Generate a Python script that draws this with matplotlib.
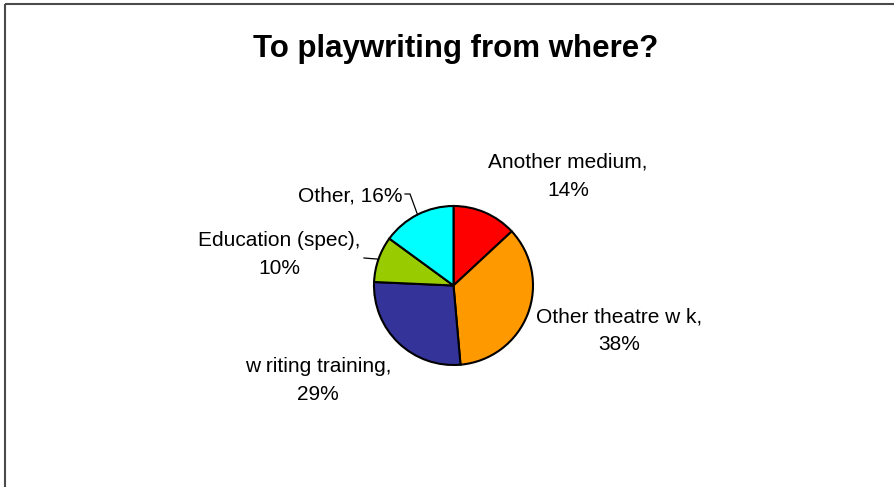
import numpy as np
import matplotlib.pyplot as plt
from matplotlib.patches import Rectangle

plt.rcParams['font.family'] = ['Liberation Sans', 'DejaVu Sans']

# Survey answers, in order clockwise from 12 o'clock
categories = ['Another medium', 'Other theatre w k', 'w riting training',
              'Education (spec)', 'Other']
percents = [14, 38, 29, 10, 16]
colors = ['#FF0000', '#FF9900', '#333399', '#99CC00', '#00FFFF']

# label layout (pixel coords), one line or two per label
label_pos = [(568, 176), (619, 331), (318, 380), (279, 255), (350, 196)]
two_lines = [True, True, True, True, False]

W, H = 895, 487
fig = plt.figure(figsize=(W / 100, H / 100), dpi=100)
ax = fig.add_axes([0, 0, 1, 1])

# chart area border
ax.add_patch(Rectangle((5, 4), W + 20, H + 20, fill=False,
                       edgecolor='#4a4a4a', lw=1.5))

ax.text(W / 2 + 8, 49, 'To playwriting from where?', ha='center', va='center',
        fontsize=22.5, fontweight='bold')

center = (453.5, 285.5)
radius = 79.5
wedges, _ = ax.pie(percents, colors=colors, center=center, radius=radius,
                   startangle=270, counterclock=True, frame=True,
                   wedgeprops=dict(edgecolor='black', linewidth=1.5))
ax.set_xlim(0, W)
ax.set_ylim(H, 0)
ax.set_aspect('equal')
ax.axis('off')

for name, pct, (x, y), tl in zip(categories, percents, label_pos, two_lines):
    txt = f'{name},\n{pct}%' if tl else f'{name}, {pct}%'
    ax.text(x, y, txt, ha='center', va='center', fontsize=15,
            linespacing=1.6)

# leader lines for the two small labels on the left
def edge_point(w):
    mid = np.deg2rad((w.theta1 + w.theta2) / 2)
    return center[0] + radius * np.cos(mid), center[1] + radius * np.sin(mid)

ex, ey = edge_point(wedges[4])
ax.plot([405, 410, ex], [194, 194, ey], color='black', lw=0.9)
ex, ey = edge_point(wedges[3])
ax.plot([364, ex], [258, ey], color='black', lw=0.9)

fig.savefig('out.png', dpi=100)
